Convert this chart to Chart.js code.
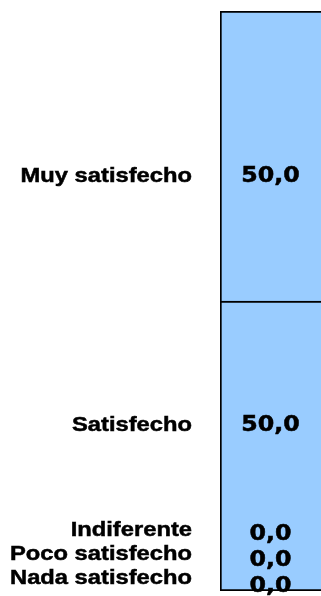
<!DOCTYPE html>
<html>
<head>
<meta charset="utf-8">
<script src="https://cdn.jsdelivr.net/npm/chart.js@4"></script>
<style>
    body { margin: 0; background: #fff; }
    #wrap { width: 321px; height: 596px; }
</style>
</head>
<body>
<div id="wrap"><canvas id="myChart"></canvas></div>
<script>
// stacked from the bottom up
const categorias = ["Nada satisfecho", "Poco satisfecho", "Indiferente", "Satisfecho", "Muy satisfecho"]
const porcentajes = [0, 0, 0, 50, 50]

const textStretch = 1.13

function formatValor(v){
    return v.toFixed(1).replace(".", ",")
}

// spread labels that sit too close, each group centred on its mean,
// then keep every group above maxY
function spread(items, gap, maxY){
    // same height: the later (upper) dataset goes first
    items.sort((a, b) => (a.y - b.y) || (b.idx - a.idx))
    let moved = true
    let guard = 0
    while(moved && guard++ < 50){
        moved = false
        let groups = [[items[0]]]
        for(let i = 1; i < items.length; i++){
            let g = groups[groups.length - 1]
            if(items[i].y - g[g.length - 1].y < gap - 0.01){
                g.push(items[i])
            }else{
                groups.push([items[i]])
            }
        }
        groups.forEach(g => {
            let mean = g.reduce((s, it) => s + it.y, 0) / g.length
            let shift = Math.min(0, maxY - (mean + (g.length - 1) / 2 * gap))
            g.forEach((it, k) => {
                let ny = mean + (k - (g.length - 1) / 2) * gap + shift
                if(Math.abs(ny - it.y) > 0.01) moved = true
                it.y = ny
            })
        })
    }
    return items
}

function drawText(ctx, text, x, y){
    ctx.save()
    ctx.translate(x, y)
    ctx.scale(textStretch, 1)
    ctx.strokeText(text, 0, 0)
    ctx.fillText(text, 0, 0)
    ctx.restore()
}

const etiquetas = {
    id: "etiquetas",
    afterDatasetsDraw(chart){
        const ctx = chart.ctx
        const area = chart.chartArea
        const mid = (area.top + area.bottom) / 2
        let items = []
        chart.data.datasets.forEach((ds, i) => {
            const bar = chart.getDatasetMeta(i).data[0]
            const centro = (bar.y + bar.base) / 2
            // labels of real segments lean a bit toward the middle
            const y = ds.data[0] > 0 ? mid + (centro - mid) * 0.86 : centro
            items.push({
                idx: i,
                y: y,
                left: bar.x - bar.width / 2,
                cx: bar.x,
                label: ds.label,
                valor: formatValor(ds.data[0])
            })
        })
        const cats = spread(items.map(it => Object.assign({}, it)), 24, area.bottom - 13)
        const vals = spread(items.map(it => Object.assign({}, it)), 26, area.bottom - 4)

        ctx.save()
        ctx.fillStyle = "#000"
        ctx.strokeStyle = "#000"
        ctx.lineWidth = 0.5
        ctx.textBaseline = "middle"
        ctx.font = 'bold 21px "Liberation Sans"'
        ctx.textAlign = "right"
        cats.forEach(it => drawText(ctx, it.label, it.left - 28, it.y))
        ctx.font = 'bold 21px "DejaVu Sans"'
        ctx.textAlign = "center"
        vals.forEach(it => drawText(ctx, it.valor, it.cx, it.y))
        ctx.restore()
    }
}

const primeraBase = porcentajes.findIndex(v => v > 0)

new Chart("myChart", {
    type: "bar",
    data: {
        labels: [""],
        datasets: categorias.map((c, i) => ({
            label: c,
            data: [porcentajes[i]],
            backgroundColor: "#99ccff",
            borderColor: "#000",
            borderSkipped: false,
            borderWidth: {top: 2, left: 2, right: 0, bottom: i === primeraBase ? 2 : 0},
            categoryPercentage: 1,
            barPercentage: 1
        }))
    },
    options: {
        responsive: true,
        maintainAspectRatio: false,
        animation: false,
        layout: {
            padding: {left: 220, right: 0, top: 11, bottom: 5}
        },
        scales: {
            x: {stacked: true, display: false},
            y: {stacked: true, display: false, min: 0, max: 100}
        },
        plugins: {
            legend: {display: false},
            tooltip: {enabled: false}
        }
    },
    plugins: [etiquetas]
})
</script>
</body>
</html>
